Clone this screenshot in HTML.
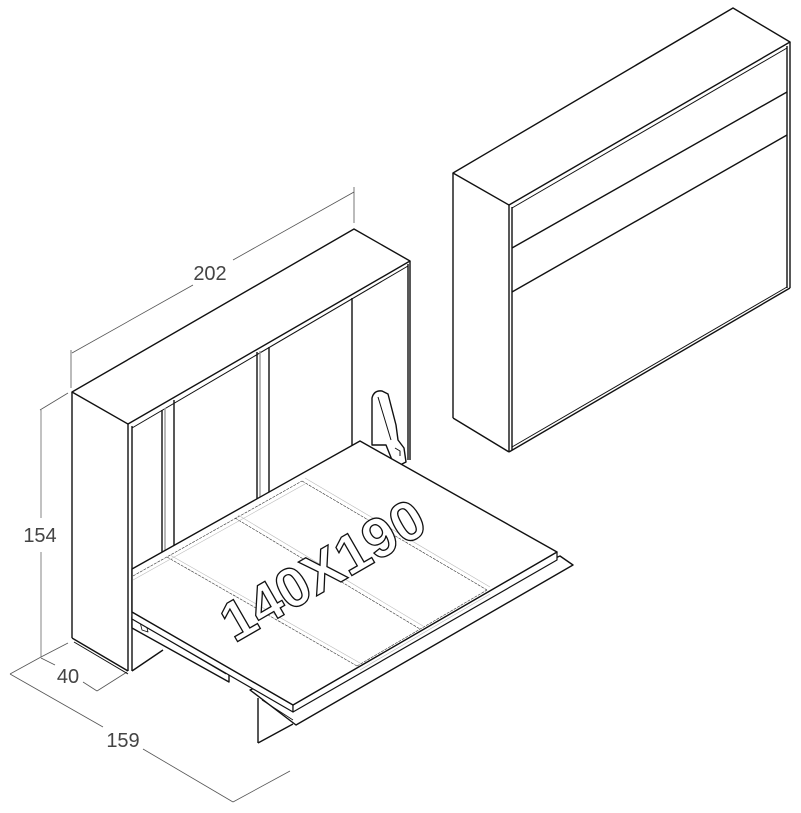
<!DOCTYPE html>
<html><head><meta charset="utf-8"><style>
html,body{margin:0;padding:0;background:#fff;}
svg{display:block;}
text{font-family:"Liberation Sans",sans-serif;}
</style></head><body>
<svg width="801" height="813" viewBox="0 0 801 813" xmlns="http://www.w3.org/2000/svg">
<g fill="none" stroke="#555" stroke-width="0.8">
<line x1="71" y1="350" x2="71" y2="388"/>
<line x1="354" y1="187" x2="354" y2="223"/>
<line x1="72" y1="353" x2="193" y2="285"/>
<line x1="233" y1="260" x2="354" y2="192"/>
<line x1="40" y1="410" x2="68" y2="393"/>
<line x1="41" y1="410" x2="41" y2="518" stroke="#999" stroke-width="1.2"/>
<line x1="41" y1="552" x2="41" y2="657" stroke="#999" stroke-width="1.2"/>
<line x1="41" y1="657" x2="68" y2="643"/>
<line x1="41" y1="658" x2="55" y2="665"/>
<line x1="83" y1="682" x2="97" y2="691"/>
<line x1="97" y1="691" x2="127" y2="672"/>
<line x1="10" y1="674" x2="41" y2="657"/>
<line x1="10" y1="674" x2="103" y2="727"/>
<line x1="143" y1="749" x2="233" y2="802"/>
<line x1="233" y1="802" x2="290" y2="771"/>
</g>
<g fill="#444" font-size="20">
<text x="210" y="280" text-anchor="middle">202</text>
<text x="40" y="542" text-anchor="middle">154</text>
<text x="68" y="683" text-anchor="middle">40</text>
<text x="123" y="747" text-anchor="middle">159</text>
</g>

<g fill="none" stroke="#111" stroke-width="1.4" stroke-linejoin="round">
<polygon points="453,173 733,8 790,42 509,205" fill="#fff"/>
<line x1="453" y1="173" x2="453" y2="418"/>
<line x1="453" y1="418" x2="509" y2="452"/>
<line x1="509" y1="205" x2="509" y2="452"/>
<line x1="512" y1="207" x2="512" y2="450"/>
<line x1="790" y1="42" x2="790" y2="288"/>
<line x1="787" y1="46" x2="787" y2="288"/>
<line x1="509" y1="452" x2="790" y2="288"/>
<line x1="512" y1="447" x2="787" y2="287" stroke-width="1"/>
<line x1="512" y1="208" x2="787" y2="48" stroke-width="1"/>
<line x1="512" y1="248" x2="787" y2="92"/>
<line x1="512" y1="292" x2="787" y2="135"/>

<polygon points="72,392 354,229 410,261 128,424" fill="#fff"/>
<line x1="72" y1="392" x2="72" y2="638"/>
<line x1="128" y1="424" x2="128" y2="671"/>
<line x1="132" y1="426" x2="132" y2="671"/>
<line x1="72" y1="638" x2="128" y2="671"/>
<line x1="74" y1="642" x2="128" y2="674" stroke-width="1"/>
<line x1="132" y1="428" x2="408" y2="266" stroke-width="1"/>
<line x1="408" y1="264" x2="408" y2="460"/>
<line x1="410" y1="261" x2="410" y2="460"/>
<line x1="132" y1="671" x2="163" y2="650"/>
<line x1="162" y1="410" x2="162" y2="552"/>
<line x1="165" y1="408" x2="165" y2="552" stroke="#999"/>
<line x1="174" y1="400" x2="174" y2="548"/>
<line x1="257" y1="352" x2="257" y2="500"/>
<line x1="260" y1="351" x2="260" y2="500" stroke="#999"/>
<line x1="269" y1="347" x2="269" y2="496"/>
<line x1="352" y1="298" x2="352" y2="445"/>
<path d="M372,445 L372,398 Q374,390 382,391 L388,394 L396,425 L398,440 L404,448 L406,462 L400,465 L392,460 L386,445 Z" fill="#fff"/>
<line x1="378" y1="397" x2="391" y2="440" stroke-width="1"/>
<path d="M395,448 l5,3 l0,5" stroke-width="1"/>
<polygon points="132,617 229,672 229,682 132,628" fill="#fff"/>
<line x1="136" y1="621" x2="226" y2="674" stroke-width="0.8"/>
<path d="M140,622 l6,2 l2,8 l-6,-2 z" stroke-width="0.8"/>
<polygon points="250,690 560,556 573,565 296,725" fill="#fff"/>
<line x1="258" y1="698" x2="258" y2="743"/>
<line x1="258" y1="743" x2="293" y2="724"/>
<line x1="262" y1="700" x2="293" y2="720" stroke-width="0.8"/>
<polygon points="132,612 293,705 293,712 132,619" fill="#fff" stroke-width="1.2"/>
<polygon points="293,705 557,552 557,560 293,712" fill="#fff" stroke-width="1.2"/>
<polygon points="132,569 360,441 557,552 293,705 132,612" fill="#fff"/>
</g>
<g stroke="#333" stroke-width="0.6" fill="none" stroke-dasharray="3,1">
<line x1="167" y1="557" x2="357" y2="666"/>
<line x1="235" y1="518" x2="420" y2="629"/>
<line x1="302" y1="481" x2="487" y2="590"/>
<line x1="133" y1="576" x2="302" y2="481"/>
<line x1="357" y1="666" x2="487" y2="590"/>
</g>
<g stroke="#bbb" stroke-width="0.6" fill="none">
<line x1="170" y1="555" x2="360" y2="663"/>
<line x1="238" y1="515" x2="423" y2="626"/>
<line x1="305" y1="478" x2="490" y2="587"/>
<line x1="133" y1="580" x2="305" y2="484"/>
<line x1="360" y1="670" x2="490" y2="594"/>
</g>
<text x="0" y="0" transform="translate(325,574) rotate(-30)" text-anchor="middle" dominant-baseline="middle" font-size="56" font-weight="bold" fill="#fff" stroke="#111" stroke-width="1.3" textLength="226" lengthAdjust="spacingAndGlyphs">140X190</text>
</svg>
</body></html>
